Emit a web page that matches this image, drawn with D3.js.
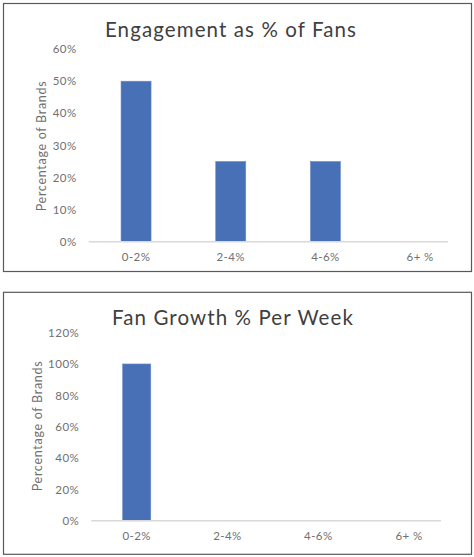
<!DOCTYPE html>
<html>
<head>
<meta charset="utf-8">
<script src="https://cdn.jsdelivr.net/npm/d3@7"></script>
<style>
  body { margin: 0; background: #fff; }
  svg { display: block; }
</style>
</head>
<body>
<svg id="chart" width="474" height="557"></svg>
<script>
const categories = ['0-2%', '2-4%', '4-6%', '6+ %'];

const engagementTitle = 'Engagement as % of Fans';
const engagementValues = [0.50, 0.25, 0.25, 0];
const engagementTicks = [0, 0.1, 0.2, 0.3, 0.4, 0.5, 0.6];

const growthTitle = 'Fan Growth % Per Week';
const growthValues = [1.00, 0, 0, 0];
const growthTicks = [0, 0.2, 0.4, 0.6, 0.8, 1.0, 1.2];

const yAxisTitle = 'Percentage of Brands';

const svg = d3.select('#chart');
const fmt = d3.format('.0%');

function drawChart(opts) {
  const g = svg.append('g');

  // outer frame
  g.append('rect')
    .attr('x', opts.box[0]).attr('y', opts.box[1])
    .attr('width', opts.box[2]).attr('height', opts.box[3])
    .attr('fill', '#fff')
    .attr('stroke', '#595959')
    .attr('stroke-width', 1.2);

  const x = d3.scaleBand()
    .domain(opts.categories)
    .range(opts.xRange)
    .padding(0);

  const y = d3.scaleLinear()
    .domain([0, d3.max(opts.ticks)])
    .range(opts.yRange);

  // title
  g.append('text')
    .attr('x', opts.titlePos[0]).attr('y', opts.titlePos[1])
    .attr('text-anchor', 'middle')
    .attr('font-family', 'Lato, sans-serif')
    .attr('font-size', 20.5)
    .attr('letter-spacing', 1.1)
    .attr('fill', '#404040')
    .text(opts.title);

  // y tick labels
  const yAxis = g.append('g')
    .attr('transform', `translate(${opts.xRange[0]},0)`)
    .call(d3.axisLeft(y).tickValues(opts.ticks).tickFormat(fmt).tickSize(0).tickPadding(12));
  yAxis.select('.domain').remove();
  yAxis.selectAll('text')
    .attr('font-family', 'Lato, sans-serif')
    .attr('font-size', 11.5)
    .attr('letter-spacing', 0.5)
    .attr('fill', '#707070');

  // y axis title
  g.append('text')
    .attr('transform', `translate(${opts.yTitlePos[0]},${opts.yTitlePos[1]}) rotate(-90)`)
    .attr('text-anchor', 'middle')
    .attr('dy', '0.35em')
    .attr('font-family', 'Lato, sans-serif')
    .attr('font-size', 12.5)
    .attr('letter-spacing', 0.7)
    .attr('fill', '#707070')
    .text(yAxisTitle);

  // bars
  const barW = x.bandwidth() * opts.barRatio;
  g.selectAll('rect.bar')
    .data(opts.values.map((v, i) => ({ cat: opts.categories[i], v })))
    .join('rect')
    .attr('class', 'bar')
    .attr('x', d => x(d.cat) + (x.bandwidth() - barW) / 2)
    .attr('y', d => y(d.v))
    .attr('width', barW)
    .attr('height', d => y(0) - y(d.v))
    .attr('fill', '#4870b6')
    .attr('stroke', '#6d8cc6')
    .attr('stroke-width', 0.6);

  // baseline
  g.append('line')
    .attr('x1', opts.xRange[0]).attr('x2', opts.axisEnd)
    .attr('y1', y(0)).attr('y2', y(0))
    .attr('stroke', '#d9d9d9')
    .attr('stroke-width', 1.5);

  // x labels
  const xAxis = g.append('g')
    .attr('transform', `translate(0,${y(0)})`)
    .call(d3.axisBottom(x).tickSize(0).tickPadding(11));
  xAxis.select('.domain').remove();
  xAxis.selectAll('text')
    .attr('font-family', 'Lato, sans-serif')
    .attr('font-size', 11.5)
    .attr('letter-spacing', 0.4)
    .attr('fill', '#707070');
}

drawChart({
  title: engagementTitle,
  categories: categories,
  values: engagementValues,
  ticks: engagementTicks,
  box: [3.5, 3.5, 468, 268],
  xRange: [88.7, 467.5],
  axisEnd: 448,
  yRange: [241.7, 49.1],
  barRatio: 0.317,
  titlePos: [231, 37],
  yTitlePos: [41.5, 146]
});

drawChart({
  title: growthTitle,
  categories: categories,
  values: growthValues,
  ticks: growthTicks,
  box: [3.5, 292.3, 468, 262],
  xRange: [91.3, 454.5],
  axisEnd: 441,
  yRange: [520.8, 332.6],
  barRatio: 0.31,
  titlePos: [233, 325],
  yTitlePos: [38, 426]
});
</script>
</body>
</html>
